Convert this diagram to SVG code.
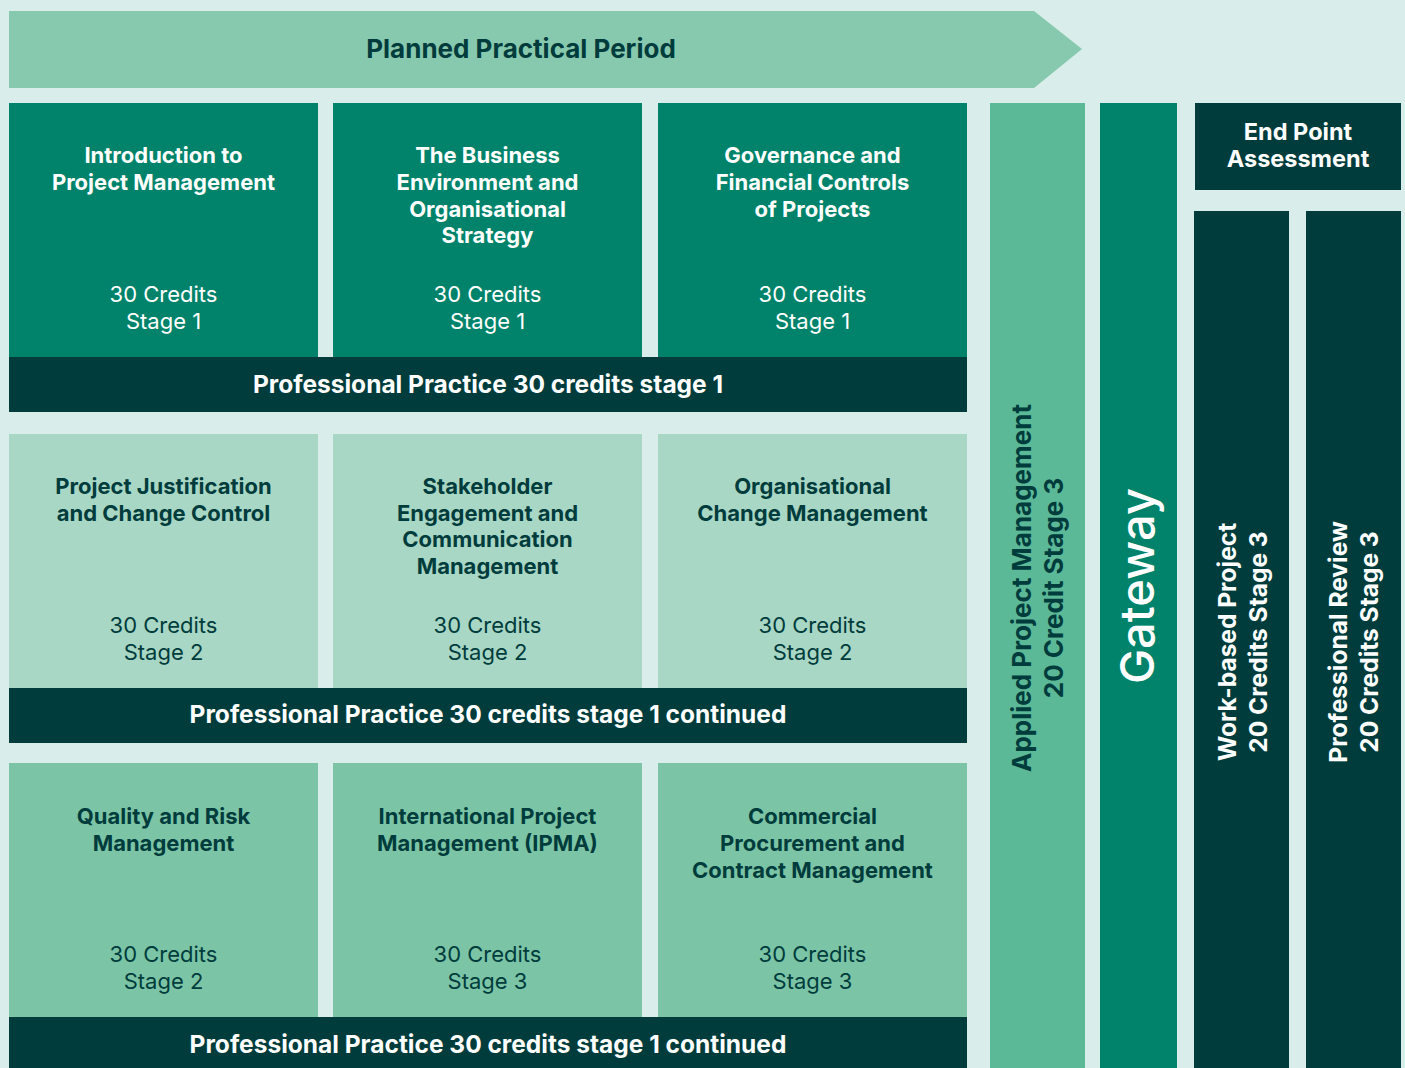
<svg xmlns="http://www.w3.org/2000/svg" width="1405" height="1068" viewBox="0 0 1405 1068">
<style>
text{font-family:"Inter","Liberation Sans",sans-serif;text-anchor:middle}
.t{font-size:22px;font-weight:700}
.c{font-size:22px;font-weight:400}
.b{font-size:24.5px;font-weight:700}
.v{font-size:24.5px;font-weight:700}
.w{fill:#ffffff}
.d{fill:#003c3c}
.bar{fill:#003c3c}
.r1{fill:#00836a}
.r2{fill:#a9d7c5}
.r3{fill:#7bc5a6}
</style>
<rect x="0" y="0" width="1405" height="1068" fill="#d9eeea"/>
<g id="planned-period">
<polygon points="9,11 1034,11 1082,49 1034,88 9,88" fill="#87c9ae"/>
<text x="521" y="58" class="d" style="font-size:26px;font-weight:700">Planned Practical Period</text>
</g>
<g id="intro-pm">
<rect x="9" y="103" width="309" height="254" class="r1"/>
<text class="t w" x="163.5" y="163">Introduction to</text>
<text class="t w" x="163.5" y="190">Project Management</text>
<text class="c w" x="163.5" y="302">30 Credits</text>
<text class="c w" x="163.5" y="329">Stage 1</text>
</g>
<g id="business-env">
<rect x="333" y="103" width="309" height="254" class="r1"/>
<text class="t w" x="487.5" y="163">The Business</text>
<text class="t w" x="487.5" y="190">Environment and</text>
<text class="t w" x="487.5" y="217">Organisational</text>
<text class="t w" x="487.5" y="243">Strategy</text>
<text class="c w" x="487.5" y="302">30 Credits</text>
<text class="c w" x="487.5" y="329">Stage 1</text>
</g>
<g id="governance">
<rect x="658" y="103" width="309" height="254" class="r1"/>
<text class="t w" x="812.5" y="163">Governance and</text>
<text class="t w" x="812.5" y="190">Financial Controls</text>
<text class="t w" x="812.5" y="217">of Projects</text>
<text class="c w" x="812.5" y="302">30 Credits</text>
<text class="c w" x="812.5" y="329">Stage 1</text>
</g>
<g id="pp-1">
<rect x="9" y="357" width="958" height="55" class="bar"/>
<text class="b w" x="488" y="393">Professional Practice 30 credits stage 1</text>
</g>
<g id="justification">
<rect x="9" y="434" width="309" height="254" class="r2"/>
<text class="t d" x="163.5" y="494">Project Justification</text>
<text class="t d" x="163.5" y="521">and Change Control</text>
<text class="c d" x="163.5" y="633">30 Credits</text>
<text class="c d" x="163.5" y="660">Stage 2</text>
</g>
<g id="stakeholder">
<rect x="333" y="434" width="309" height="254" class="r2"/>
<text class="t d" x="487.5" y="494">Stakeholder</text>
<text class="t d" x="487.5" y="521">Engagement and</text>
<text class="t d" x="487.5" y="547">Communication</text>
<text class="t d" x="487.5" y="574">Management</text>
<text class="c d" x="487.5" y="633">30 Credits</text>
<text class="c d" x="487.5" y="660">Stage 2</text>
</g>
<g id="org-change">
<rect x="658" y="434" width="309" height="254" class="r2"/>
<text class="t d" x="812.5" y="494">Organisational</text>
<text class="t d" x="812.5" y="521">Change Management</text>
<text class="c d" x="812.5" y="633">30 Credits</text>
<text class="c d" x="812.5" y="660">Stage 2</text>
</g>
<g id="pp-2">
<rect x="9" y="688" width="958" height="55" class="bar"/>
<text class="b w" x="488" y="723">Professional Practice 30 credits stage 1 continued</text>
</g>
<g id="quality-risk">
<rect x="9" y="763" width="309" height="254" class="r3"/>
<text class="t d" x="163.5" y="824">Quality and Risk</text>
<text class="t d" x="163.5" y="851">Management</text>
<text class="c d" x="163.5" y="962">30 Credits</text>
<text class="c d" x="163.5" y="989">Stage 2</text>
</g>
<g id="ipma">
<rect x="333" y="763" width="309" height="254" class="r3"/>
<text class="t d" x="487.5" y="824">International Project</text>
<text class="t d" x="487.5" y="851">Management (IPMA)</text>
<text class="c d" x="487.5" y="962">30 Credits</text>
<text class="c d" x="487.5" y="989">Stage 3</text>
</g>
<g id="commercial">
<rect x="658" y="763" width="309" height="254" class="r3"/>
<text class="t d" x="812.5" y="824">Commercial</text>
<text class="t d" x="812.5" y="851">Procurement and</text>
<text class="t d" x="812.5" y="878">Contract Management</text>
<text class="c d" x="812.5" y="962">30 Credits</text>
<text class="c d" x="812.5" y="989">Stage 3</text>
</g>
<g id="pp-3">
<rect x="9" y="1017" width="958" height="51" class="bar"/>
<text class="b w" x="488" y="1053">Professional Practice 30 credits stage 1 continued</text>
</g>
<g id="applied-pm">
<rect x="990" y="103" width="95" height="965" fill="#5bb998"/>
<text class="d" style="font-size:26px;font-weight:700" transform="translate(1031,588) rotate(-90)">Applied Project Management</text>
<text class="d" style="font-size:26px;font-weight:700" transform="translate(1063,588) rotate(-90)">20 Credit Stage 3</text>
</g>
<g id="gateway">
<rect x="1100" y="103" width="77" height="965" fill="#00836a"/>
<text class="w" style="font-size:47px;font-weight:500" transform="translate(1154,586) rotate(-90)">Gateway</text>
</g>
<g id="epa">
<rect x="1195" y="103" width="206" height="87" fill="#003c3c"/>
<text class="w" style="font-size:23.5px;font-weight:700" x="1298" y="140">End Point</text>
<text class="w" style="font-size:23.5px;font-weight:700" x="1298" y="167">Assessment</text>
</g>
<g id="work-based">
<rect x="1194" y="211" width="95" height="857" fill="#003c3c"/>
<text class="v w" transform="translate(1236,642) rotate(-90)">Work-based Project</text>
<text class="v w" transform="translate(1267,642) rotate(-90)">20 Credits Stage 3</text>
</g>
<g id="prof-review">
<rect x="1306" y="211" width="95" height="857" fill="#003c3c"/>
<text class="v w" transform="translate(1347,642) rotate(-90)">Professional Review</text>
<text class="v w" transform="translate(1378,642) rotate(-90)">20 Credits Stage 3</text>
</g>
<g id="connectors"/>
</svg>
